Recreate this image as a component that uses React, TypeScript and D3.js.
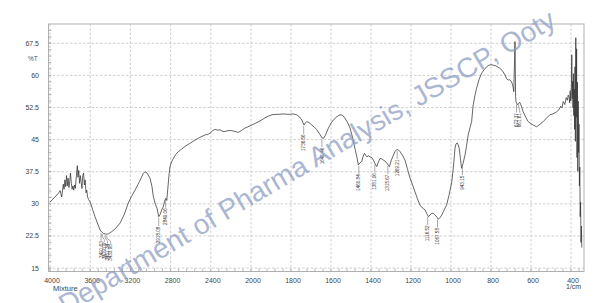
import React from "react";
import * as d3 from "d3";

// ---- Data (wavenumber in 1/cm, %T) ----
const WAVENUMBERS = [
  4000, 3980, 3950, 3925, 3910, 3900, 3892, 3884, 3876, 3868, 3860, 3852, 3844, 3836, 3828, 3820,
  3812, 3804, 3796, 3788, 3780, 3772, 3764, 3756, 3748, 3740, 3734, 3728, 3722, 3714, 3706, 3698,
  3690, 3682, 3674, 3666, 3658, 3650, 3642, 3634, 3626, 3616, 3600, 3575, 3552, 3525, 3502, 3485,
  3469, 3450, 3434, 3420, 3400, 3386, 3350, 3303, 3260, 3221, 3190, 3154, 3110, 3072, 3055, 3035,
  3005, 2985, 2972, 2950, 2935, 2918, 2905, 2885, 2873, 2860, 2849, 2838, 2828, 2815, 2806, 2790,
  2773, 2750, 2723, 2690, 2657, 2610, 2557, 2510, 2458, 2430, 2408, 2380, 2358, 2330, 2308, 2280,
  2259, 2230, 2192, 2160, 2126, 2095, 2060, 2030, 1996, 1970, 1946, 1930, 1913, 1895, 1880, 1860,
  1840, 1813, 1790, 1771, 1758, 1746, 1735, 1727, 1721, 1710, 1696, 1683, 1671, 1655, 1645, 1638,
  1628, 1613, 1600, 1588, 1570, 1555, 1543, 1530, 1515, 1505, 1496, 1488, 1478, 1471, 1463, 1455,
  1446, 1440, 1433, 1427, 1421, 1413, 1405, 1396, 1388, 1380, 1371, 1363, 1355, 1346, 1338, 1330,
  1321, 1313, 1308, 1300, 1288, 1280, 1271, 1263, 1255, 1243, 1230, 1218, 1205, 1192, 1180, 1168,
  1155, 1142, 1130, 1122, 1113, 1105, 1096, 1088, 1080, 1071, 1063, 1055, 1046, 1038, 1030, 1022,
  1010, 996, 988, 980, 975, 969, 964, 959, 953, 947, 940, 930, 922, 914, 905, 897,
  889, 880, 872, 860, 847, 830, 814, 800, 789, 775, 756, 742, 730, 722, 714, 706,
  697, 690, 686, 680, 677, 675, 671, 667, 662, 656, 648, 639, 626, 614, 600, 589,
  580, 572, 560, 550, 539, 525, 506, 490, 472, 460, 452, 445, 439, 431, 424, 418,
  414, 410, 407, 404, 401, 398, 396, 394, 392, 390, 388, 386, 384, 382, 380, 378,
  376, 374, 372, 370, 368, 366, 364, 362, 360, 358, 356, 354, 352, 350, 348, 346,
];
const TRANSMITTANCE = [
  30.4, 30.9, 31.6, 32.3, 32.6, 33.1, 32.4, 31.6, 33.0, 34.6, 33.4, 35.6, 34.0, 36.6, 34.2, 36.0,
  33.8, 35.2, 37.2, 34.8, 33.4, 34.2, 33.2, 34.4, 33.6, 35.8, 37.6, 38.9, 36.2, 37.8, 34.8, 36.6,
  35.0, 33.6, 36.6, 37.2, 34.4, 35.6, 32.6, 33.2, 31.6, 31.0, 30.4, 28.6, 27.0, 25.3, 23.9, 23.4,
  23.1, 22.96, 22.9, 23.0, 23.3, 23.5, 24.2, 25.5, 27.6, 30.2, 31.7, 33.2, 35.2, 37.1, 37.5, 37.2,
  36.0, 34.0, 31.7, 29.8, 29.0, 27.0, 27.5, 28.8, 29.3, 30.6, 31.3, 30.8, 33.5, 37.0, 38.7, 39.8,
  40.6, 41.5, 42.2, 42.8, 43.4, 44.1, 44.9, 45.5, 46.1, 46.2, 46.5, 47.1, 47.4, 47.2, 47.3, 46.9,
  46.9, 47.1, 47.1, 46.9, 46.7, 47.1, 47.7, 48.0, 48.4, 49.0, 49.6, 50.1, 50.5, 50.8, 50.9, 50.9,
  51.0, 50.9, 51.0, 50.8, 50.3, 49.6, 48.4, 49.0, 49.2, 49.0, 48.4, 47.9, 47.3, 46.2, 45.4, 45.3,
  46.0, 47.7, 48.8, 49.6, 50.4, 50.8, 50.7, 50.0, 48.8, 47.7, 46.2, 44.5, 42.5, 41.0, 39.1, 39.6,
  39.9, 41.0, 41.8, 41.4, 41.0, 41.2, 41.0, 40.8, 40.2, 39.4, 38.7, 39.8, 40.6, 40.5, 40.2, 40.0,
  39.5, 39.0, 38.7, 40.0, 41.4, 42.2, 42.7, 42.6, 42.2, 41.4, 40.2, 38.2, 36.0, 34.4, 32.8, 31.2,
  29.7, 29.0, 28.6, 27.8, 27.0, 27.4, 27.8, 27.8, 27.4, 26.9, 26.4, 26.8, 27.4, 28.2, 29.0, 29.7,
  32.0, 35.2, 38.6, 43.0, 44.0, 44.2, 43.8, 43.0, 40.6, 38.3, 39.4, 41.4, 43.6, 46.1, 47.8, 49.2,
  53.1, 55.4, 57.0, 59.0, 60.5, 61.6, 62.3, 62.5, 62.4, 62.2, 61.7, 61.0, 60.1, 59.2, 58.9, 59.0,
  58.5, 57.4, 56.2, 67.9, 55.0, 53.8, 53.4, 53.1, 53.5, 53.7, 52.8, 51.5, 50.2, 49.2, 48.7, 48.4,
  48.2, 48.0, 48.4, 48.8, 49.2, 49.9, 50.8, 51.0, 51.5, 52.0, 52.8, 52.4, 53.9, 53.2, 54.8, 54.2,
  55.4, 55.0, 53.6, 56.4, 54.0, 57.8, 64.8, 54.6, 58.6, 52.4, 60.4, 50.6, 56.8, 47.4, 62.0, 44.6,
  68.8, 50.2, 66.2, 40.8, 58.4, 37.6, 54.0, 42.0, 48.6, 34.2, 38.6, 27.0, 30.4, 21.0, 24.8, 19.8,
];

const X_TICKS = [4000, 3600, 3200, 2800, 2400, 2000, 1800, 1600, 1400, 1200, 1000, 800, 600, 400];
const Y_TICKS = [15, 22.5, 30, 37.5, 45, 52.5, 60, 67.5];

const PEAK_POSITIONS = [
  3491.63, 3479.09, 3451.34, 3433.98, 2918.08, 2849.06, 1736.56, 1645.46, 1460.84, 1381.06,
  1315.67, 1269.21, 1116.52, 1067.58, 943.15, 672.37, 661.61,
];
const PEAK_LABELS = PEAK_POSITIONS.map((p) => p.toFixed(2));

const WATERMARK = "Department of Pharma Analysis, JSSCP, Ooty";
const SAMPLE_NAME = "Mixture";
const X_UNIT = "1/cm";
const Y_UNIT = "%T";

// ---- Layout ----
const W = 607;
const H = 303;
const FRAME = { left: 48.5, right: 584, top: 24, bottom: 271.5 };
const FONT = "'Liberation Sans', Arial, sans-serif";

const x = d3
  .scaleLinear()
  .domain([4015, 2000, 335])
  .range([FRAME.left, 251, FRAME.right]);
const y = d3.scaleLinear().domain([14.2, 72]).range([FRAME.bottom, FRAME.top]);

const data = WAVENUMBERS.map((w, i) => ({ w, t: TRANSMITTANCE[i] }));

function valueAt(w: number): number {
  for (let i = 0; i < data.length - 1; i++) {
    const a = data[i];
    const b = data[i + 1];
    if (w <= a.w && w >= b.w) {
      const f = (a.w - w) / (a.w - b.w);
      return a.t + f * (b.t - a.t);
    }
  }
  return data[data.length - 1].t;
}

export default function App() {
  const line = d3
    .line<{ w: number; t: number }>()
    .x((d) => x(d.w))
    .y((d) => y(d.t));

  const minorX = [...d3.range(4000, 2000, -80), ...d3.range(2000, 340, -40)];
  const minorY = d3.range(15, 71, 1.5);

  // peak label placement with simple spreading
  const peaks = PEAK_POSITIONS.map((p, i) => {
    const px = x(p);
    const yc = y(valueAt(p));
    return { p, label: PEAK_LABELS[i], px, yc, lx: px };
  }).sort((a, b) => a.px - b.px);
  for (let i = 1; i < peaks.length; i++) {
    if (peaks[i].lx - peaks[i - 1].lx < 3.2) peaks[i].lx = peaks[i - 1].lx + 3.2;
  }
  // nudge spread groups so they sit under their common minimum
  for (let i = 0; i < peaks.length; i++) {
    if (peaks[i].lx !== peaks[i].px) {
      let j = i;
      while (j > 0 && peaks[j - 1].lx + 3.3 > peaks[j].lx) j--;
    }
  }

  return (
    <svg
      width={W}
      height={H}
      viewBox={`0 0 ${W} ${H}`}
      style={{ position: "absolute", left: 0, top: 0, background: "#fff", display: "block" }}
      fontFamily={FONT}
    >
      <rect x={0} y={0} width={W} height={H} fill="#fff" />
      {/* gridlines */}
      {Y_TICKS.map((t) => (
        <line
          key={"gy" + t}
          x1={FRAME.left}
          x2={FRAME.right}
          y1={y(t)}
          y2={y(t)}
          stroke="#c2c2c2"
          strokeWidth={0.8}
          strokeDasharray="2.5,1.8"
        />
      ))}
      {X_TICKS.map((t) => (
        <line
          key={"gx" + t}
          x1={x(t)}
          x2={x(t)}
          y1={FRAME.top}
          y2={FRAME.bottom}
          stroke="#c2c2c2"
          strokeWidth={0.8}
          strokeDasharray="2.5,1.8"
        />
      ))}
      {/* frame */}
      <rect
        x={FRAME.left}
        y={FRAME.top}
        width={FRAME.right - FRAME.left}
        height={FRAME.bottom - FRAME.top}
        fill="none"
        stroke="#a8a8a8"
        strokeWidth={0.9}
      />
      {/* minor ticks */}
      {minorY.map((t) => (
        <line
          key={"my" + t}
          x1={FRAME.left}
          x2={FRAME.left + 3}
          y1={y(t)}
          y2={y(t)}
          stroke="#999"
          strokeWidth={0.7}
        />
      ))}
      {minorX.map((t) => (
        <line
          key={"mx" + t}
          x1={x(t)}
          x2={x(t)}
          y1={FRAME.bottom}
          y2={FRAME.bottom - 3}
          stroke="#999"
          strokeWidth={0.7}
        />
      ))}
      {/* y tick labels */}
      {Y_TICKS.map((t) => (
        <text key={"ly" + t} x={39} y={y(t)} dy="0.35em" textAnchor="end" fontSize={7} fill="#444">
          {String(t)}
        </text>
      ))}
      <text x={28} y={59} dy="0.35em" fontSize={6.5} fill="#555">
        {Y_UNIT}
      </text>
      {/* x tick labels */}
      {X_TICKS.map((t) => (
        <text key={"lx" + t} x={x(t) + 2} y={283} textAnchor="middle" fontSize={7} fill="#444">
          {String(t)}
        </text>
      ))}
      <text x={53} y={291} fontSize={7.5} fill="#444">
        {SAMPLE_NAME}
      </text>
      <text x={566} y={289} fontSize={7} fill="#444">
        {X_UNIT}
      </text>
      {/* spectrum */}
      <path
        d={line(data) || ""}
        fill="none"
        stroke="#333"
        strokeWidth={0.75}
        strokeLinejoin="round"
      />
      {/* peak labels */}
      {peaks.map((pk) => {
        const top = pk.yc + 10;
        const pts =
          Math.abs(pk.lx - pk.px) < 0.5
            ? `${pk.px},${pk.yc + 1.5} ${pk.px},${top - 0.5}`
            : `${pk.px},${pk.yc + 1.5} ${pk.px},${pk.yc + 4} ${pk.lx},${pk.yc + 7} ${pk.lx},${top - 0.5}`;
        return (
          <g key={"pk" + pk.p}>
            <polyline points={pts} fill="none" stroke="#555" strokeWidth={0.5} />
            <text
              transform={`translate(${pk.lx},${top}) rotate(-90)`}
              textAnchor="end"
              dy="0.35em"
              fontSize={4.6}
              fill="#333"
            >
              {pk.label}
            </text>
          </g>
        );
      })}
      {/* watermark */}
      <text
        transform="translate(66,315) rotate(-30.5)"
        fontSize={28}
        fill="#8a9ac2"
        opacity={0.72}
      >
        {WATERMARK}
      </text>
    </svg>
  );
}
